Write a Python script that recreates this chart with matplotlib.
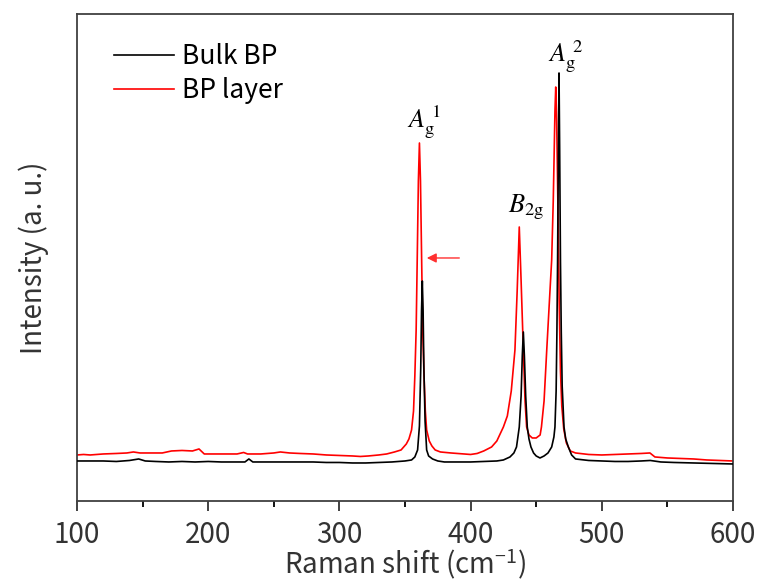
import numpy as np
import matplotlib
matplotlib.use("Agg")
import matplotlib.pyplot as plt

plt.rcParams['font.family'] = ['Noto Sans CJK SC', 'DejaVu Sans']
plt.rcParams['mathtext.fontset'] = 'stix'

# Raman spectra (wavenumber in cm^-1, intensity in a.u.)
bulk_shift = [100, 110, 120, 130, 140, 147, 152, 160, 170, 180, 190, 200, 210, 220, 228, 231, 234,
              240, 250, 260, 270, 280, 290, 300, 310, 320, 330, 340, 350, 355, 357.5, 359.6, 361,
              362, 362.6, 363.2, 363.8, 364.4, 365.3, 366.5, 368, 371, 375, 380, 390, 400, 410,
              420, 425, 430, 433, 435, 437.1, 438.5, 439.4, 440.2, 441.0, 442.0, 443.2, 444.5,
              446, 448, 450, 452.9, 456, 459, 461.8, 463.5, 464.3, 465.2, 465.8, 466.3, 466.9,
              467.4, 467.9, 468.5, 469.1, 469.8, 471.2, 472.5, 474.5, 477, 480, 490, 500, 510,
              520, 530, 537, 545, 555, 570, 585, 600]
bulk_int = [40, 40, 40, 39.5, 40.5, 42, 40, 39.5, 39, 39.5, 39, 39.5, 39, 39, 39, 42, 39,
            39, 39, 39, 39, 39, 38.5, 38.5, 38, 38, 38.5, 39, 40, 41, 44, 51, 75,
            133, 190, 220, 190, 133, 80, 51, 45, 42, 40, 39, 39, 39, 39.5,
            40, 41, 44, 48, 54, 74, 105, 145, 169, 145, 105, 74, 62,
            54, 48, 45, 43, 45, 48, 54, 64, 74, 110, 170, 240, 350,
            428, 350, 240, 170, 115, 74, 62, 54, 46, 42, 40.5, 40, 39.5,
            39.5, 40, 40.5, 39, 38.5, 38, 37.5, 37]

layer_shift = [100, 105, 110, 120, 130, 138, 143, 148, 155, 165, 172, 180, 188, 193, 197, 205,
               215, 222, 227, 230, 240, 250, 255, 262, 270, 280, 290, 300, 310, 316, 322, 330,
               336, 342, 347, 351, 353, 355, 356.5, 357.5, 358.5, 359.3, 360.2, 361, 361.8,
               362.7, 363.5, 364.5, 365.5, 366.5, 368.5, 370.5, 373, 377, 385, 395, 400, 405,
               410, 416, 420, 425, 428, 431, 433.8, 435.5, 437.1, 438.5, 440.2, 441.5, 442.7,
               444.5, 447, 450, 453, 454, 456, 458, 460, 461.8, 463, 463.6, 464.3, 464.9, 465.6,
               466.5, 467.5, 468.5, 469.5, 471, 473, 476, 480, 490, 500, 510, 520, 530, 536.7,
               540.5, 550, 560, 570, 580, 590, 600]
layer_int = [46, 46.5, 46, 47, 47.5, 48, 49, 48, 48, 48, 50, 50.5, 50, 52, 47, 47,
             47, 47, 48.5, 47, 47, 48, 49, 48, 47.5, 47, 46, 45.5, 45, 44.5, 45, 46,
             47, 49, 51, 57, 62, 71, 90, 125, 171, 240, 320, 358, 320,
             240, 171, 125, 90, 71, 60, 55, 51, 49, 48, 47, 46.5, 47.5,
             50, 54, 60, 74, 85, 110, 151, 210, 274, 220, 151, 100, 74,
             66, 63, 63, 66, 74, 100, 150, 198, 241, 300, 341, 390, 414, 380,
             300, 200, 130, 95, 72, 58, 50, 48, 46.5, 46, 46.5, 47, 47.5, 48,
             44, 43, 42.5, 42, 41, 40.5, 40]

fig = plt.figure(figsize=(7.58, 5.83), dpi=100)
ax = fig.add_axes([0.1016, 0.1407, 0.8654, 0.8353])

ax.plot(bulk_shift, bulk_int, color='black', lw=1.2, label='Bulk BP', zorder=3)
ax.plot(layer_shift, layer_int, color='#ff0000', lw=1.2, label='BP layer', zorder=2)

# peak labels
ax.text(351.5, 373, r'$\mathit{A}_{\mathrm{g}}^{\ 1}$', fontsize=19)
ax.text(459, 439, r'$\mathit{A}_{\mathrm{g}}^{\ 2}$', fontsize=19)
ax.text(428.5, 289, r'$\mathit{B}_{\mathrm{2g}}$', fontsize=19)

# shift arrow
ax.annotate('', xy=(364.5, 243), xytext=(393.5, 243),
            arrowprops=dict(arrowstyle='-|>', color='#ff3030', lw=1.0,
                            mutation_scale=14))

ax.set_xlim(100, 600)
ax.set_ylim(0, 487)
ax.set_xticks(np.arange(100, 601, 100))
ax.set_xticks(np.arange(150, 600, 100), minor=True)
ax.set_yticks([])
ax.tick_params(axis='x', which='major', length=7, width=1.3, labelsize=20, pad=7, colors='#333333')
ax.tick_params(axis='x', which='minor', length=4, width=1.3)
for s in ax.spines.values():
    s.set_linewidth(1.3)
    s.set_color('#404040')

ax.set_xlabel(r'Raman shift (cm$^{\mathdefault{-1}}$)', fontsize=20, color='#333333', labelpad=-2)
ax.set_ylabel('Intensity (a. u.)', fontsize=20, color='#333333', labelpad=20)

ax.legend(loc='upper left', frameon=False, fontsize=19, handlelength=2.3,
          handletextpad=0.3, labelspacing=0.25, borderpad=0, borderaxespad=0,
          bbox_to_anchor=(0.056, 0.94))

fig.savefig('out.png', dpi=100)
